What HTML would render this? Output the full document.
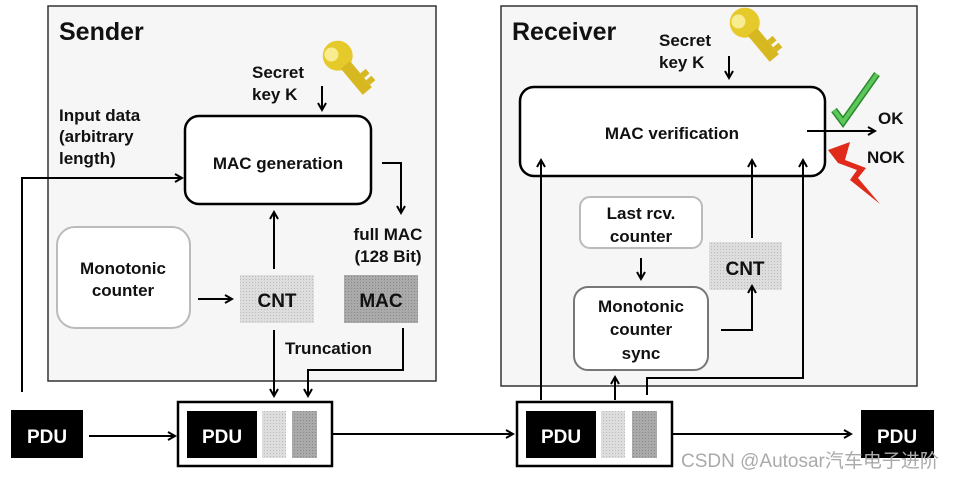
<!DOCTYPE html>
<html><head><meta charset="utf-8"><style>
body{margin:0;background:#fff;width:954px;height:478px;overflow:hidden}
text{font-family:"Liberation Sans",Arial,sans-serif;font-weight:bold;fill:#111}
</style></head><body>
<svg width="954" height="478" viewBox="0 0 954 478" xmlns="http://www.w3.org/2000/svg">
<defs>
<marker id="a" markerWidth="10" markerHeight="10" refX="8" refY="5" orient="auto" markerUnits="userSpaceOnUse">
<path d="M1,1 L8,5 L1,9" fill="none" stroke="#000" stroke-width="2"/></marker>
<pattern id="lp" width="3" height="3" patternUnits="userSpaceOnUse"><rect width="3" height="3" fill="#ddd"/><rect width="1" height="1" fill="#bbb"/></pattern>
<pattern id="dp" width="3" height="3" patternUnits="userSpaceOnUse"><rect width="3" height="3" fill="#aaa"/><rect width="1" height="1" fill="#888"/></pattern>
<g id="key"><circle cx="14" cy="14" r="15" fill="#e6c92a"/><circle cx="10" cy="9" r="7" fill="#f7ec90"/><rect x="8" y="26" width="12" height="34" fill="#d8b820"/><rect x="20" y="42" width="7" height="6" fill="#d8b820"/><rect x="20" y="51" width="7" height="6" fill="#d8b820"/></g>
</defs>
<rect x="48" y="6" width="388" height="375" fill="#f6f6f6" stroke="#333" stroke-width="1.5"/>
<rect x="501" y="6" width="416" height="380" fill="#f6f6f6" stroke="#333" stroke-width="1.5"/>
<text x="59" y="40" font-size="25">Sender</text>
<text x="512" y="40" font-size="25">Receiver</text>

<text x="252" y="78" font-size="17">Secret</text>
<text x="252" y="100" font-size="17">key K</text>
<line x1="322" y1="86" x2="322" y2="110" stroke="#000" stroke-width="2" marker-end="url(#a)"/>
<g transform="translate(318,54) rotate(-40)"><use href="#key"/></g>
<text x="59" y="121" font-size="17">Input data</text>
<text x="59" y="142" font-size="17">(arbitrary</text>
<text x="59" y="164" font-size="17">length)</text>
<rect x="185" y="116" width="186" height="88" rx="14" fill="#fff" stroke="#000" stroke-width="2.5"/>
<text x="278" y="169" font-size="17" text-anchor="middle">MAC generation</text>
<polyline points="22,392 22,178 182,178" fill="none" stroke="#000" stroke-width="2" marker-end="url(#a)"/>
<polyline points="382,163 401,163 401,213" fill="none" stroke="#000" stroke-width="2" marker-end="url(#a)"/>
<text x="388" y="240" font-size="17" text-anchor="middle">full MAC</text>
<text x="388" y="262" font-size="17" text-anchor="middle">(128 Bit)</text>
<rect x="57" y="227" width="133" height="101" rx="18" fill="#fff" stroke="#bbb" stroke-width="2"/>
<text x="123" y="274" font-size="17" text-anchor="middle">Monotonic</text>
<text x="123" y="296" font-size="17" text-anchor="middle">counter</text>
<line x1="198" y1="299" x2="232" y2="299" stroke="#000" stroke-width="2" marker-end="url(#a)"/>
<rect x="240" y="275" width="74" height="48" fill="url(#lp)"/>
<text x="277" y="307" font-size="19" text-anchor="middle">CNT</text>
<rect x="344" y="275" width="74" height="48" fill="url(#dp)"/>
<text x="381" y="307" font-size="19" text-anchor="middle">MAC</text>
<line x1="274" y1="269" x2="274" y2="212" stroke="#000" stroke-width="2" marker-end="url(#a)"/>
<text x="285" y="354" font-size="17">Truncation</text>
<line x1="274" y1="330" x2="274" y2="396" stroke="#000" stroke-width="2" marker-end="url(#a)"/>
<polyline points="403,328 403,370 308,370 308,396" fill="none" stroke="#000" stroke-width="2" marker-end="url(#a)"/>

<rect x="11" y="410" width="72" height="48" fill="#000"/>
<text x="47" y="443" font-size="19" text-anchor="middle" style="fill:#fff">PDU</text>
<line x1="89" y1="436" x2="175" y2="436" stroke="#000" stroke-width="2" marker-end="url(#a)"/>
<rect x="178" y="402" width="154" height="64" fill="#fff" stroke="#000" stroke-width="2.5"/>
<rect x="187" y="411" width="70" height="47" fill="#000"/>
<text x="222" y="443" font-size="19" text-anchor="middle" style="fill:#fff">PDU</text>
<rect x="262" y="411" width="24" height="47" fill="url(#lp)"/>
<rect x="292" y="411" width="25" height="47" fill="url(#dp)"/>
<line x1="332" y1="434" x2="513" y2="434" stroke="#000" stroke-width="2" marker-end="url(#a)"/>

<text x="659" y="46" font-size="17">Secret</text>
<text x="659" y="68" font-size="17">key K</text>
<line x1="729" y1="56" x2="729" y2="78" stroke="#000" stroke-width="2" marker-end="url(#a)"/>
<g transform="translate(725,21) rotate(-40)"><use href="#key"/></g>
<rect x="520" y="87" width="305" height="89" rx="14" fill="#fff" stroke="#000" stroke-width="2.5"/>
<text x="672" y="139" font-size="17" text-anchor="middle">MAC verification</text>
<line x1="807" y1="131" x2="875" y2="131" stroke="#000" stroke-width="2" marker-end="url(#a)"/>
<polyline points="834,110 843,122 877,74" fill="none" stroke="#2a8a2a" stroke-width="7"/>
<polyline points="834,110 843,122 877,74" fill="none" stroke="#5cc85c" stroke-width="4"/>
<text x="878" y="124" font-size="17">OK</text>
<text x="867" y="163" font-size="17">NOK</text>
<polygon points="828,150 850,142 845,160 866,168 858,178 880,204 850,180 857,170 838,163" fill="#e02a1a"/>
<line x1="541" y1="400" x2="541" y2="160" stroke="#000" stroke-width="2" marker-end="url(#a)"/>
<line x1="752" y1="238" x2="752" y2="160" stroke="#000" stroke-width="2" marker-end="url(#a)"/>
<polyline points="647,395 647,378 803,378 803,160" fill="none" stroke="#000" stroke-width="2" marker-end="url(#a)"/>
<rect x="580" y="197" width="122" height="51" rx="10" fill="#fff" stroke="#bbb" stroke-width="2"/>
<text x="641" y="219" font-size="17" text-anchor="middle">Last rcv.</text>
<text x="641" y="242" font-size="17" text-anchor="middle">counter</text>
<line x1="641" y1="258" x2="641" y2="279" stroke="#000" stroke-width="2" marker-end="url(#a)"/>
<rect x="574" y="287" width="134" height="83" rx="14" fill="#fff" stroke="#777" stroke-width="2"/>
<text x="641" y="312" font-size="17" text-anchor="middle">Monotonic</text>
<text x="641" y="335" font-size="17" text-anchor="middle">counter</text>
<text x="641" y="359" font-size="17" text-anchor="middle">sync</text>
<rect x="709" y="242" width="73" height="48" fill="url(#lp)"/>
<text x="745" y="275" font-size="19" text-anchor="middle">CNT</text>
<polyline points="721,330 752,330 752,286" fill="none" stroke="#000" stroke-width="2" marker-end="url(#a)"/>
<line x1="615" y1="400" x2="615" y2="377" stroke="#000" stroke-width="2" marker-end="url(#a)"/>

<rect x="517" y="402" width="155" height="64" fill="#fff" stroke="#000" stroke-width="2.5"/>
<rect x="526" y="411" width="70" height="47" fill="#000"/>
<text x="561" y="443" font-size="19" text-anchor="middle" style="fill:#fff">PDU</text>
<rect x="601" y="411" width="24" height="47" fill="url(#lp)"/>
<rect x="632" y="411" width="25" height="47" fill="url(#dp)"/>
<line x1="672" y1="434" x2="851" y2="434" stroke="#000" stroke-width="2" marker-end="url(#a)"/>
<rect x="861" y="410" width="73" height="48" fill="#000"/>
<text x="897" y="443" font-size="19" text-anchor="middle" style="fill:#fff">PDU</text>
<text x="681" y="467" font-size="19" style="font-weight:normal;fill:#aaa;font-family:'Liberation Sans','Noto Sans CJK SC',sans-serif">CSDN @Autosar汽车电子进阶</text>
</svg>
</body></html>
